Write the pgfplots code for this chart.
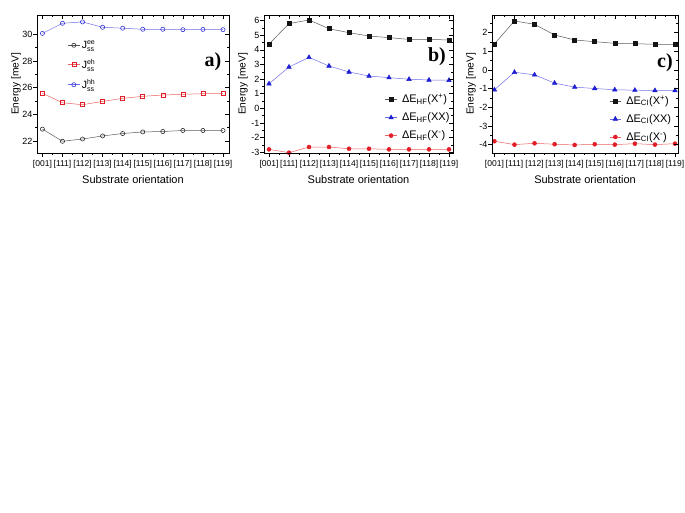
\documentclass[border=0pt]{standalone}
\usepackage{fontspec}
\setmainfont{Liberation Sans}
\newfontfamily\serifb{Liberation Serif}
\usepackage{pgfplots}
\usepackage{pgfplotstable}
\pgfplotsset{compat=1.18}

\definecolor{mblack}{RGB}{20,20,20}
\definecolor{lblack}{RGB}{90,90,90}
\definecolor{mred}{RGB}{225,30,40}
\definecolor{lred}{RGB}{235,100,100}
\definecolor{mblue}{RGB}{30,30,210}
\definecolor{lblue}{RGB}{110,110,230}

\pgfplotstableread{
x ee eh hh
0 22.89 25.58 30.07
1 21.98 24.87 30.83
2 22.15 24.72 30.93
3 22.38 24.97 30.53
4 22.56 25.20 30.46
5 22.68 25.35 30.38
6 22.71 25.45 30.38
7 22.79 25.50 30.35
8 22.79 25.55 30.37
9 22.79 25.55 30.35
}\tabA
\pgfplotstableread{
x Xp XX Xm
0 4.40 1.68 -2.81
1 5.80 2.83 -3.04
2 6.05 3.49 -2.65
3 5.45 2.90 -2.65
4 5.18 2.49 -2.77
5 4.95 2.21 -2.77
6 4.84 2.10 -2.81
7 4.72 1.99 -2.81
8 4.72 1.94 -2.81
9 4.68 1.92 -2.81
}\tabB
\pgfplotstableread{
x Xp XX Xm
0 1.40 -1.06 -3.82
1 2.63 -0.12 -4.00
2 2.45 -0.26 -3.93
3 1.88 -0.70 -3.98
4 1.61 -0.92 -4.02
5 1.52 -0.99 -3.98
6 1.43 -1.06 -4.00
7 1.41 -1.08 -3.95
8 1.38 -1.10 -4.00
9 1.38 -1.10 -3.95
}\tabC

\newcommand{\supsub}[2]{$^{\mbox{\fontsize{7}{7}\selectfont #1}}_{\mbox{\fontsize{7}{7}\selectfont #2}}$}

\tikzset{labfont/.style={font=\serifb\bfseries\fontsize{20}{20}\selectfont}}

\pgfplotsset{
  common/.style={
    scale only axis, height=138pt,
    anchor=south west,
    xtick={0,...,9}, minor x tick num=1, minor y tick num=1,
    major tick length=4pt, minor tick length=2pt,
    every tick/.style={black, line width=0.5pt},
    axis line style={line width=0.6pt},
    /pgf/number format/assume math mode=true,
    xticklabel style={font=\fontsize{8.5}{10}\selectfont},
    yticklabel style={font=\fontsize{9}{10}\selectfont, inner xsep=0.5pt},
    xlabel style={font=\fontsize{11}{13}\selectfont},
    every axis y label/.style={at={(axis description cs:0,0.5)}, xshift=-21pt, rotate=90, anchor=center, font=\fontsize{10.2}{12}\selectfont},
  },
  mainax/.style={common, tick align=outside, xtick pos=left, ytick pos=left,
    xticklabels={{[001]},{[111]},{[112]},{[113]},{[114]},{[115]},{[116]},{[117]},{[118]},{[119]}},
    xlabel={Substrate orientation}, ylabel={Energy [meV]},
    legend cell align=left,
    legend style={draw=none, fill=none, inner sep=0pt, font=\fontsize{11}{13}\selectfont, row sep=4.5pt, anchor=north west},
    legend image code/.code={\draw[mark repeat=2,mark phase=2,##1] plot coordinates {(0cm,0cm) (0.2cm,0cm) (0.4cm,0cm)};},
  },
  overax/.style={common, tick align=inside, xtick pos=right, ytick pos=right,
    xticklabels={}, yticklabels={}},
  pA/.style={width=192pt, at={(37pt,-153pt)}, xmin=-0.27, xmax=9.3, ymin=21.1, ymax=31.45, ytick={22,24,...,30}},
  pB/.style={width=189pt, at={(264pt,-153pt)}, xmin=-0.25, xmax=9.2, ymin=-3.06, ymax=6.39, ytick={-3,...,6}},
  pC/.style={width=186pt, at={(492pt,-153pt)}, xmin=-0.12, xmax=9.15, ymin=-4.45, ymax=2.95, ytick={-4,...,3}},
}

\begin{document}
\begin{tikzpicture}
\path[use as bounding box] (0pt,0pt) rectangle (685pt,-513pt);

% Panel a
\begin{axis}[mainax, pA, legend style={at={(0.16,0.83)}, font=\fontsize{10.5}{12}\selectfont, row sep=5.5pt}]
\addplot[lblack, line width=0.5pt, mark=o, mark size=2.1pt, mark options={draw=mblack, fill=white}] table[x=x,y=ee]{\tabA};
\addlegendentry{J\supsub{ee}{ss}}
\addplot[lred, line width=0.5pt, mark=square, mark size=2pt, mark options={draw=mred, fill=white}] table[x=x,y=eh]{\tabA};
\addlegendentry{J\supsub{eh}{ss}}
\addplot[lblue, line width=0.5pt, mark=o, mark size=2.1pt, mark options={draw=mblue, fill=white}] table[x=x,y=hh]{\tabA};
\addlegendentry{J\supsub{hh}{ss}}
\node[labfont] at (axis description cs:0.917,0.66) {a)};
\end{axis}
\begin{axis}[overax, pA]\end{axis}

% Panel b
\begin{axis}[mainax, pB, legend style={at={(0.64,0.44)}}]
\addplot[lblack, line width=0.5pt, mark=square*, mark size=2pt, mark options={draw=mblack, fill=mblack}] table[x=x,y=Xp]{\tabB};
\addlegendentry{\hspace{3pt}ΔE\textsubscript{HF}(X\textsuperscript{+})}
\addplot[lblue, line width=0.5pt, mark=triangle*, mark size=2.6pt, mark options={draw=mblue, fill=mblue}] table[x=x,y=XX]{\tabB};
\addlegendentry{\hspace{3pt}ΔE\textsubscript{HF}(XX)}
\addplot[lred, line width=0.5pt, mark=*, mark size=2pt, mark options={draw=mred, fill=mred}] table[x=x,y=Xm]{\tabB};
\addlegendentry{\hspace{3pt}ΔE\textsubscript{HF}(X\textsuperscript{-})}
\node[labfont] at (axis description cs:0.915,0.70) {b)};
\end{axis}
\begin{axis}[overax, pB]\end{axis}

% Panel c
\begin{axis}[mainax, pC, legend style={at={(0.63,0.43)}}]
\addplot[lblack, line width=0.5pt, mark=square*, mark size=2pt, mark options={draw=mblack, fill=mblack}] table[x=x,y=Xp]{\tabC};
\addlegendentry{\hspace{3pt}ΔE\textsubscript{CI}(X\textsuperscript{+})}
\addplot[lblue, line width=0.5pt, mark=triangle*, mark size=2.6pt, mark options={draw=mblue, fill=mblue}] table[x=x,y=XX]{\tabC};
\addlegendentry{\hspace{3pt}ΔE\textsubscript{CI}(XX)}
\addplot[lred, line width=0.5pt, mark=*, mark size=2pt, mark options={draw=mred, fill=mred}] table[x=x,y=Xm]{\tabC};
\addlegendentry{\hspace{3pt}ΔE\textsubscript{CI}(X\textsuperscript{-})}
\node[labfont] at (axis description cs:0.93,0.652) {c)};
\end{axis}
\begin{axis}[overax, pC]\end{axis}
\end{tikzpicture}
\end{document}
